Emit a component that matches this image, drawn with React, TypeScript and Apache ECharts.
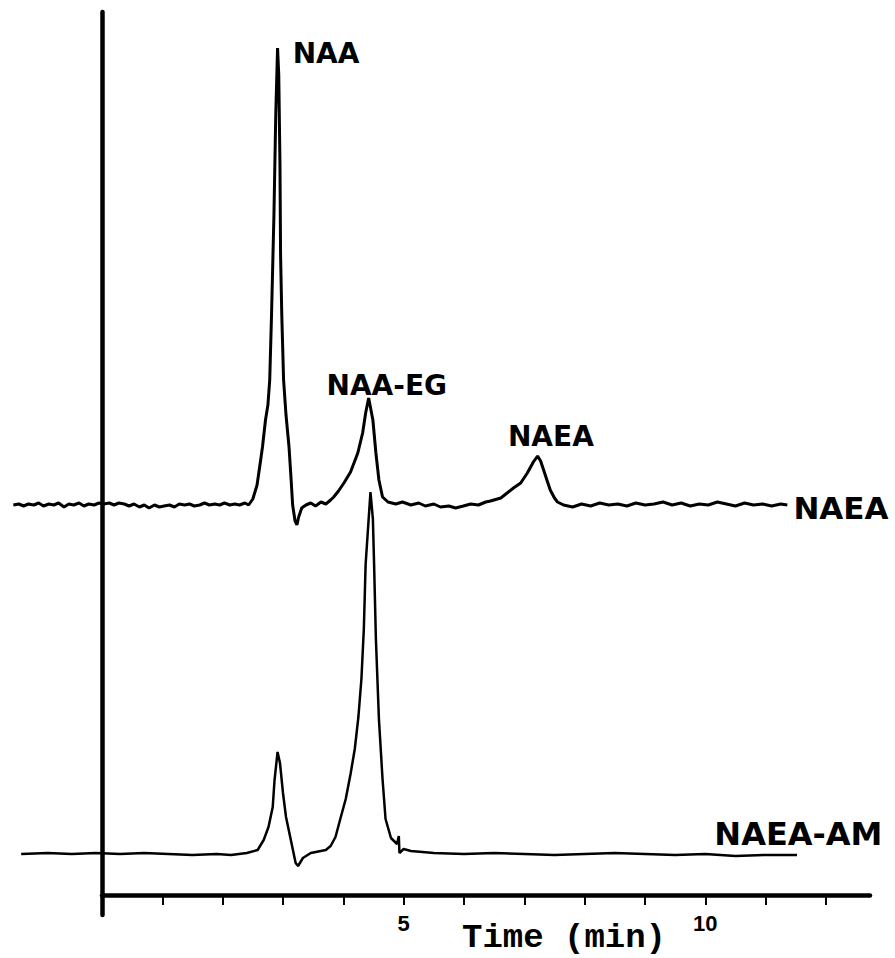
import React, { useEffect, useRef } from "react";
import * as echarts from "echarts";

// Chromatogram traces: retention time (min) and detector response (a.u., relative to each trace baseline)
const NAEA_TIME = [
  -1.47, -1.38, -1.3, -1.22, -1.13, -1.05, -0.97, -0.88, -0.8, -0.72, -0.63, -0.55, -0.47, -0.38, -0.3, -0.22,
  -0.13, -0.05, 0.03, 0.12, 0.2, 0.28, 0.37, 0.45, 0.53, 0.62, 0.7, 0.78, 0.87, 0.95, 1.03, 1.12, 1.2, 1.28,
  1.37, 1.45, 1.53, 1.62, 1.7, 1.78, 1.87, 1.95, 2.03, 2.12, 2.2, 2.28, 2.37,
  2.43, 2.5, 2.57, 2.63, 2.66, 2.71, 2.75, 2.78, 2.81, 2.85, 2.88, 2.91, 2.93, 2.95, 2.96, 2.98, 3.01, 3.05,
  3.1, 3.13, 3.16, 3.2, 3.23, 3.26, 3.31, 3.38,
  3.46, 3.54, 3.63, 3.71, 3.79, 3.84, 3.92, 4.01, 4.12, 4.24, 4.32, 4.37, 4.42, 4.49, 4.54, 4.59, 4.65, 4.74,
  4.87, 4.98, 5.12, 5.25, 5.36, 5.5, 5.61, 5.75, 5.86, 5.99, 6.11, 6.24, 6.36,
  6.44, 6.61, 6.82, 6.94, 7.05, 7.15, 7.22, 7.27, 7.32, 7.38, 7.43, 7.5, 7.55, 7.65,
  7.8, 7.95, 8.1, 8.25, 8.4, 8.55, 8.7, 8.85, 9.0, 9.15, 9.3, 9.45, 9.6, 9.75, 9.9, 10.05, 10.2, 10.35, 10.5,
  10.65, 10.8, 10.95, 11.1, 11.25, 11.36,
];
const NAEA_SIGNAL = [
  0, 1, -1, 1, 0, 2, -1, 1, 0, 2, -2, 1, 0, 2, -1, 1,
  0, 2, 1, 2, 0, 2, 1, -1, 1, -2, 0, -3, 0, -2, -1, 0, -2, 1,
  0, 1, -1, 0, 2, 0, 1, 0, 2, 0, 1, 0, 2,
  0, 6, 20, 45, 58, 85, 100, 125, 190, 290, 390, 457, 430, 340, 250, 190, 125, 90,
  58, 30, 0, -16, -20, -12, -3, 0,
  2, -1, 3, 1, 5, 8, 14, 22, 33, 52, 72, 92, 107, 85, 52, 25, 8, 3,
  1, 3, 0, 2, -1, 1, -2, -1, -3, -1, 1, 0, 3,
  4, 7, 17, 22, 32, 43, 49, 44, 35, 24, 15, 7, 3, 0,
  -2, 1, -1, 2, 0, 1, -1, 2, 0, 1, 3, 0, 2, -1, 1, 0, 3, 1, -1,
  2, 0, 1, -1, 1, 0,
];
const NAEA_AM_TIME = [
  -1.34, -0.9, -0.5, -0.1, 0.3, 0.7, 1.1, 1.5, 1.9, 2.14, 2.4, 2.58, 2.68, 2.76, 2.83, 2.86, 2.91, 2.95,
  3.0, 3.05, 3.13, 3.21, 3.25, 3.33, 3.46, 3.71, 3.79, 3.87, 3.95, 4.04, 4.12, 4.19, 4.25, 4.3, 4.34,
  4.37, 4.42, 4.45, 4.49, 4.51, 4.54, 4.59, 4.65, 4.7, 4.79, 4.89, 4.92, 4.93, 5.0, 5.12, 5.5, 6.0,
  6.5, 7.0, 7.5, 8.0, 8.5, 9.0, 9.5, 10.0, 10.5, 11.0, 11.52,
];
const NAEA_AM_SIGNAL = [
  0, 1, 0, 1, 0, 1, 0, -1, 0, -1, 1, 4, 14, 27, 47, 74, 102, 91,
  61, 37, 14, -9, -12, -4, 1, 4, 8, 17, 35, 55, 80, 105, 137, 175, 225,
  290, 335, 362, 335, 290, 215, 135, 75, 35, 16, 10, 18, 1, 5, 3, 1, 0,
  1, 0, -1, 0, 1, 0, -1, 0, -2, -1, -1,
];

// Vertical offsets of the stacked traces (a.u.)
const NAEA_OFFSET = 390;
const NAEA_AM_OFFSET = 41;

const TRACE_NAMES = ["NAEA", "NAEA-AM"];
const PEAK_NAMES = ["NAA", "NAA-EG", "NAEA"];
const TICK_VALUES = [1, 2, 3, 4, 5, 6, 7, 8, 9, 10, 11, 12];
const LABEL_VALUES = [5, 10];
const X_MAX = 12.73;
const TRACE_X_MIN = -1.6;
const Y_MIN = -20;
const Y_MAX = 883;

export default function App() {
  const ref = useRef<HTMLDivElement>(null);

  useEffect(() => {
    if (!ref.current) return;
    const chart = echarts.init(ref.current, undefined, { renderer: "svg" });

    const W = 895;
    const H = 958;
    const axisLeft = 102;
    const axisRightPx = 870;
    const right = W - axisRightPx;
    const pxPerMin = (axisRightPx - axisLeft) / X_MAX;
    const traceLeft = axisLeft + TRACE_X_MIN * pxPerMin;
    const top = 12;
    const bottom = H - 915; // vertical axis reaches a little below the time axis
    const timeAxisBottom = H - 895;

    const naea = NAEA_TIME.map((t, i) => [t, NAEA_SIGNAL[i] + NAEA_OFFSET]);
    const naeaAm = NAEA_AM_TIME.map((t, i) => [t, NAEA_AM_SIGNAL[i] + NAEA_AM_OFFSET]);

    const labels = [
      { value: [3.16, 842], name: PEAK_NAMES[0], label: { align: "left", fontSize: 28 } },
      { value: [4.72, 510], name: PEAK_NAMES[1], label: { align: "center", fontSize: 28 } },
      { value: [7.44, 459], name: PEAK_NAMES[2], label: { align: "center", fontSize: 28 } },
      { value: [11.46, 387], name: TRACE_NAMES[0], label: { align: "left", fontSize: 31 } },
      { value: [10.15, 61], name: TRACE_NAMES[1], label: { align: "left", fontSize: 32 } },
    ];

    const gridBase = { right, top, outerBoundsMode: "none", containLabel: false };

    chart.setOption({
      animation: false,
      backgroundColor: "#fff",
      grid: [
        { ...gridBase, left: axisLeft, bottom },
        { ...gridBase, left: traceLeft, bottom },
        { ...gridBase, left: axisLeft, bottom: timeAxisBottom },
      ],
      xAxis: [
        { gridIndex: 0, type: "value", min: 0, max: X_MAX, show: false },
        { gridIndex: 1, type: "value", min: TRACE_X_MIN, max: X_MAX, show: false },
        {
          gridIndex: 2,
          type: "value",
          min: 0,
          max: X_MAX,
          axisLine: { show: true, onZero: false, lineStyle: { color: "#000", width: 4.5 } },
          axisTick: { show: true, customValues: TICK_VALUES, length: 10, inside: false, lineStyle: { color: "#000", width: 2 } },
          axisLabel: {
            show: true,
            customValues: LABEL_VALUES,
            margin: 17,
            fontSize: 22,
            fontWeight: "bold",
            fontFamily: "Liberation Sans",
            color: "#000",
          },
          splitLine: { show: false },
          name: "Time (min)",
          nameLocation: "middle",
          nameGap: 28,
          nameMoveOverlap: false,
          nameTextStyle: {
            fontFamily: "Liberation Mono",
            fontSize: 34,
            lineHeight: 30,
            fontWeight: "bold",
            color: "#000",
            padding: [0, 0, 0, 156],
          },
        },
      ],
      yAxis: [
        {
          gridIndex: 0,
          type: "value",
          min: Y_MIN,
          max: Y_MAX,
          axisLine: { show: true, onZero: false, lineStyle: { color: "#000", width: 4.5 } },
          axisTick: { show: false },
          axisLabel: { show: false },
          splitLine: { show: false },
        },
        { gridIndex: 1, type: "value", min: Y_MIN, max: Y_MAX, show: false },
        { gridIndex: 2, type: "value", min: 0, max: 1, show: false },
      ],
      series: [
        {
          name: TRACE_NAMES[0],
          type: "line",
          xAxisIndex: 1,
          yAxisIndex: 1,
          data: naea,
          symbol: "none",
          lineStyle: { color: "#000", width: 3 },
          silent: true,
        },
        {
          name: TRACE_NAMES[1],
          type: "line",
          xAxisIndex: 1,
          yAxisIndex: 1,
          data: naeaAm,
          symbol: "none",
          lineStyle: { color: "#000", width: 2.5 },
          silent: true,
        },
        {
          name: "labels",
          type: "scatter",
          xAxisIndex: 1,
          yAxisIndex: 1,
          symbolSize: 1,
          itemStyle: { color: "rgba(0,0,0,0)", opacity: 1 },
          silent: true,
          label: {
            show: true,
            position: "inside",
            verticalAlign: "middle",
            formatter: (p: any) => p.name,
            fontFamily: "DejaVu Sans",
            fontWeight: "bold",
            color: "#000",
            textBorderWidth: 0,
          },
          data: labels,
        },
      ],
    });

    return () => chart.dispose();
  }, []);

  return (
    <div
      ref={ref}
      style={{ position: "fixed", left: 0, top: 0, width: 895, height: 958, background: "#fff" }}
    />
  );
}
